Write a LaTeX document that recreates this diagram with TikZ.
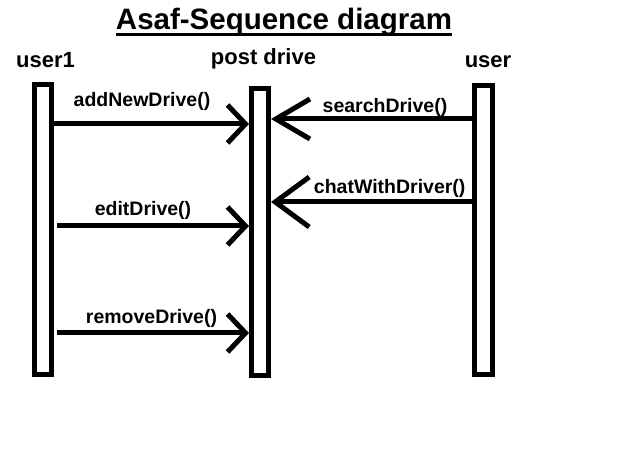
\documentclass[tikz,border=0pt]{standalone}
\usepackage{fontspec}
\setmainfont{Liberation Sans}
\usetikzlibrary{arrows.meta}
\begin{document}
\begin{tikzpicture}[x=1pt,y=-1pt,
  bar/.style={draw, line width=5pt, rectangle, inner sep=0pt},
  msg/.style={line width=5pt},
  lbl/.style={anchor=base, inner sep=0pt, font=\bfseries\fontsize{19.5}{21}\selectfont},
  head/.style={anchor=base, inner sep=0pt, font=\bfseries\fontsize{22}{24}\selectfont},
  shorthead/.style={-{Straight Barb[length=18pt,width=38pt]}},
  longhead/.style={-{Straight Barb[length=34pt,width=#1]}}
]
\useasboundingbox (0,0) rectangle (622,470);
% title
\node[anchor=base, inner sep=0pt, font=\bfseries\fontsize{29.5}{31}\selectfont] (title) at (284,30) {Asaf-Sequence diagram};
\draw[line width=3pt] (title.west |- 0,34.5) -- (title.east |- 0,34.5);
% lifeline headings
\node[head] (h1) at (45.5,68) {user1};
\node[head] (h2) at (263.5,65) {post drive};
\node[head] (h3) at (488,68) {user};
% bars
\node[bar, minimum width=17pt, minimum height=290pt] (u1) at (43,229.5) {};
\node[bar, minimum width=17pt, minimum height=287pt] (pd) at (260,232) {};
\node[bar, minimum width=18pt, minimum height=289pt] (us) at (483.5,230) {};
% messages from user1
\draw[msg, shorthead] (u1.east |- 0,124) -- (pd.west |- 0,124);
\draw[msg, shorthead, shorten <=3pt] (u1.east |- 0,226) -- (pd.west |- 0,226);
\draw[msg, shorthead, shorten <=3pt] (u1.east |- 0,333) -- (pd.west |- 0,333);
% messages from user
\draw[msg, longhead=40pt] (us.west |- 0,119) -- (pd.east |- 0,119);
\draw[msg, longhead=50pt] (us.west |- 0,202) -- (pd.east |- 0,202);
% labels
\node[lbl] (l1) at (142,107) {addNewDrive()};
\node[lbl] (l2) at (143,216) {editDrive()};
\node[lbl] (l3) at (151.5,323.3) {removeDrive()};
\node[lbl] (l4) at (385,112.7) {searchDrive()};
\node[lbl] (l5) at (389.7,193.3) {chatWithDriver()};
\end{tikzpicture}
\end{document}
